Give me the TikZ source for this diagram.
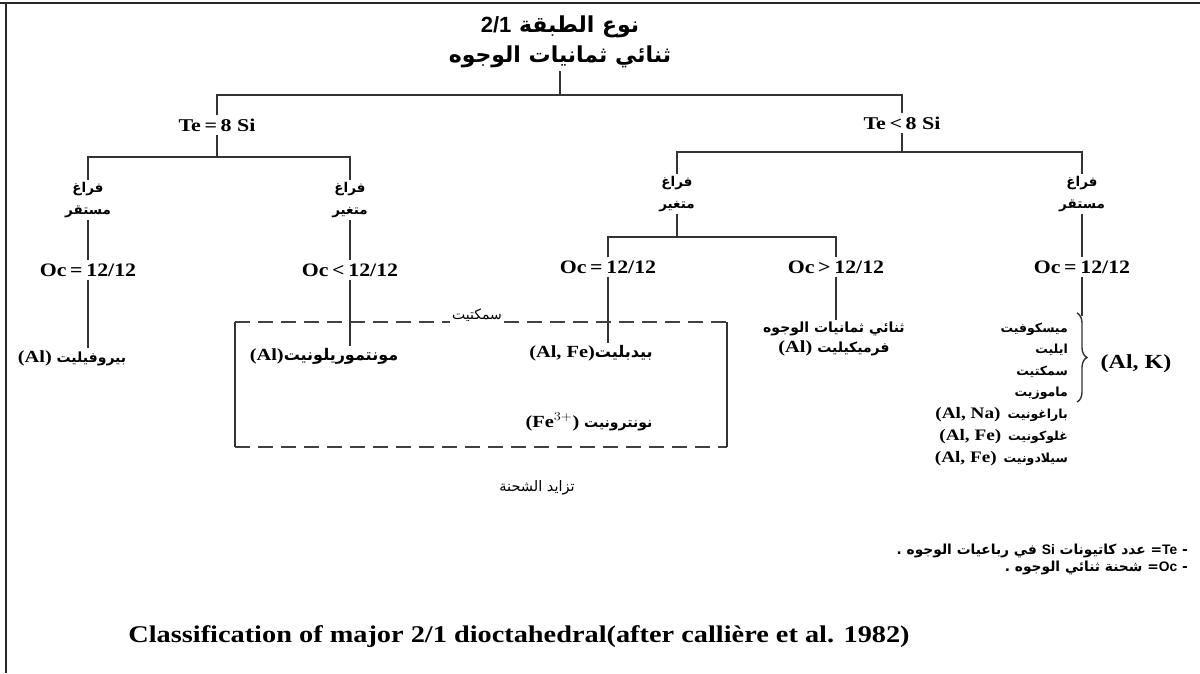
\documentclass[tikz,border=0pt]{standalone}
\usepackage{fontspec}
\setmainfont{Liberation Serif}
\newfontfamily\arabicfont[Script=Arabic]{DejaVu Sans}
\newfontfamily\latinsans{Liberation Sans}
\TeXXeTstate=1
\usetikzlibrary{decorations.pathreplacing}
\newcommand{\RL}[1]{\beginR #1\endR}
\newcommand{\lat}[2][17]{\beginL\scalebox{1.2}[1]{\rmfamily\bfseries\fontsize{#1}{#1}\selectfont #2}\endL}
\newcommand{\lats}[1]{\beginL{\latinsans\bfseries #1}\endL}
\newcommand{\arsize}[1]{\arabicfont\bfseries\fontsize{#1}{#1}\selectfont}
\begin{document}
\begin{tikzpicture}[x=1pt,y=-1pt,
  every node/.style={inner sep=3pt},
  link/.style={line width=1.6pt, draw=black!80},
  dashline/.style={line width=1.4pt, draw=black!75, dash pattern=on 15pt off 8pt},
  frame/.style={line width=2pt, draw=black!85},
  ttl/.style={font=\arabicfont\bfseries\fontsize{22}{26}\selectfont},
  cond/.style={font=\bfseries\fontsize{18}{20}\selectfont},
  oc/.style={font=\bfseries\fontsize{19}{22}\selectfont},
  ar/.style={font=\arabicfont\bfseries\fontsize{13.5}{22}\selectfont, align=center, inner sep=2pt},
  mineral/.style={font=\arsize{14}, inner sep=2pt},
  note/.style={font=\arabicfont\bfseries\fontsize{13.8}{17}\selectfont, inner sep=0pt},
  captxt/.style={font=\bfseries\fontsize{24}{27}\selectfont}]
\useasboundingbox (0,0) rectangle (1200,673);
% frame
\draw[frame] (0,3) -- (1200,3);
\draw[frame] (6,3) -- (6,673);
% title
\node[ttl] (t1) at (560,27) {\RL{نوع الطبقة \lats{2/1}}};
\node[ttl] (t2) at (560,57) {\RL{ثنائي ثمانيات الوجوه}};
\coordinate (j0) at (560,95);
\node[cond] (teL) at (217,125) {\scalebox{1.22}[1]{Te\,=\,8 Si}};
\node[cond] (teR) at (902,123) {\scalebox{1.22}[1]{Te\,<\,8 Si}};
\draw[link] (t2.south) -- (j0);
\draw[link] (teL.north) |- (j0) -| (teR.north);
% left branch
\coordinate (jL) at (217,157);
\node[ar] (fL1) at (88,200) {\RL{فراغ}\\\RL{مستقر}};
\node[ar] (fL2) at (350,200) {\RL{فراغ}\\\RL{متغير}};
\draw[link] (teL.south) -- (jL);
\draw[link] (fL1.north) |- (jL) -| (fL2.north);
% right branch
\coordinate (jR) at (902,152);
\node[ar] (fR1) at (677,194) {\RL{فراغ}\\\RL{متغير}};
\node[ar] (fR2) at (1082,194) {\RL{فراغ}\\\RL{مستقر}};
\draw[link] (teR.south) -- (jR);
\draw[link] (fR1.north) |- (jR) -| (fR2.north);
\coordinate (jM) at (677,237);
% Oc level
\node[oc] (o1) at (88,270) {\scalebox{1.15}[1]{Oc\,=\,12/12}};
\node[oc] (o2) at (350,270) {\scalebox{1.15}[1]{Oc\,<\,12/12}};
\node[oc] (o3) at (608,267) {\scalebox{1.15}[1]{Oc\,=\,12/12}};
\node[oc] (o4) at (836,267) {\scalebox{1.15}[1]{Oc\,>\,12/12}};
\node[oc] (o5) at (1082,267) {\scalebox{1.15}[1]{Oc\,=\,12/12}};
\draw[link] (fL1.south) -- (o1.north);
\draw[link] (fL2.south) -- (o2.north);
\draw[link] (fR1.south) -- (jM);
\draw[link] (o3.north) |- (jM) -| (o4.north);
\draw[link] (fR2.south) -- (o5.north);
% minerals
\node[mineral] (m1) at (72,358) {\RL{بيروفيليت \lat{(Al)}}};
\node[mineral, font=\arsize{16}] (m2) at (324,356) {\RL{مونتموريلونيت\lat{(Al)}}};
\node[mineral, font=\arsize{16}] (m3) at (591,353) {\RL{بيدبليت\lat{(Al, Fe)}}};
\node[mineral, font=\arsize{14}] (m4) at (589,422) {\RL{نونترونيت \lat{(Fe$^{3+}$)}}};
\node[mineral, align=center, font=\arabicfont\bfseries\fontsize{14}{20}\selectfont] (m5) at (834,339) {\RL{ثنائي ثمانيات الوجوه}\\\RL{فرميكيليت \lat{(Al)}}};
\node[mineral, font=\arsize{12.5}, anchor=east] (r1) at (1070,329) {\RL{ميسكوفيت}};
\node[mineral, font=\arsize{12.5}, anchor=east] (r2) at (1070,350) {\RL{ايليت}};
\node[mineral, font=\arsize{12.5}, anchor=east] (r3) at (1070,372) {\RL{سمكتيت}};
\node[mineral, font=\arsize{12.5}, anchor=east] (r4) at (1070,393) {\RL{ماموزيت}};
\node[mineral, font=\arsize{12.5}, anchor=east] (r5) at (1070,415) {\RL{باراغونيت\hspace{7pt}\lat[16]{(Al, Na)}}};
\node[mineral, font=\arsize{12.5}, anchor=east] (r6) at (1070,437) {\RL{غلوكونيت\hspace{7pt}\lat[16]{(Al, Fe)}}};
\node[mineral, font=\arsize{12.5}, anchor=east] (r7) at (1070,459) {\RL{سيلادونيت\hspace{7pt}\lat[16]{(Al, Fe)}}};
\coordinate (bt) at (1077,313);
\coordinate (bb) at (1077,402);
\draw[line width=1.4pt, draw=black!80, decorate, decoration={brace, amplitude=10pt}] (bt) -- (bb);
\node[mineral] (ak) at (1136,364) {\lat[20]{(Al, K)}};
\draw[link] (o1.south) -- (o1.south |- m1.north);
\draw[link] (o2.south) -- (o2.south |- m2.north);
\draw[link] (o3.south) -- (o3.south |- m3.north);
\draw[link] (o4.south) -- (o4.south |- m5.north);
\draw[link] (o5.south) -- (1082,316);
% smectite box
\node[mineral, font=\arabicfont\fontsize{14}{16}\selectfont] (sm) at (477,315) {\RL{سمكتيت}};
\coordinate (bTL) at (235,322);
\coordinate (bTR) at (727,322);
\coordinate (bBL) at (235,447);
\coordinate (bBR) at (727,447);
\draw[dashline] (bTL) -- (sm.west |- bTL);
\draw[dashline] (sm.east |- bTR) -- (bTR);
\draw[dashline] (bBL) -- (bBR);
\draw[link] (bTL) -- (bBL);
\draw[link] (bTR) -- (bBR);
\node[mineral, font=\arabicfont\fontsize{14.5}{16}\selectfont] (ch) at (537,488) {\RL{تزايد الشحنة}};
% notes
\node[note, anchor=east] (n1) at (1188,551) {\RL{- \lats{Te}= عدد كاتيونات \lats{Si} في رباعيات الوجوه .}};
\node[note, anchor=east] (n2) at (1188,568) {\RL{- \lats{Oc}= شحنة ثنائي الوجوه .}};
% caption
\node[captxt] (cap) at (519,637) {\scalebox{1.18}[1]{Classification of major 2/1 dioctahedral(after callière et al. 1982)}};
\end{tikzpicture}
\end{document}
